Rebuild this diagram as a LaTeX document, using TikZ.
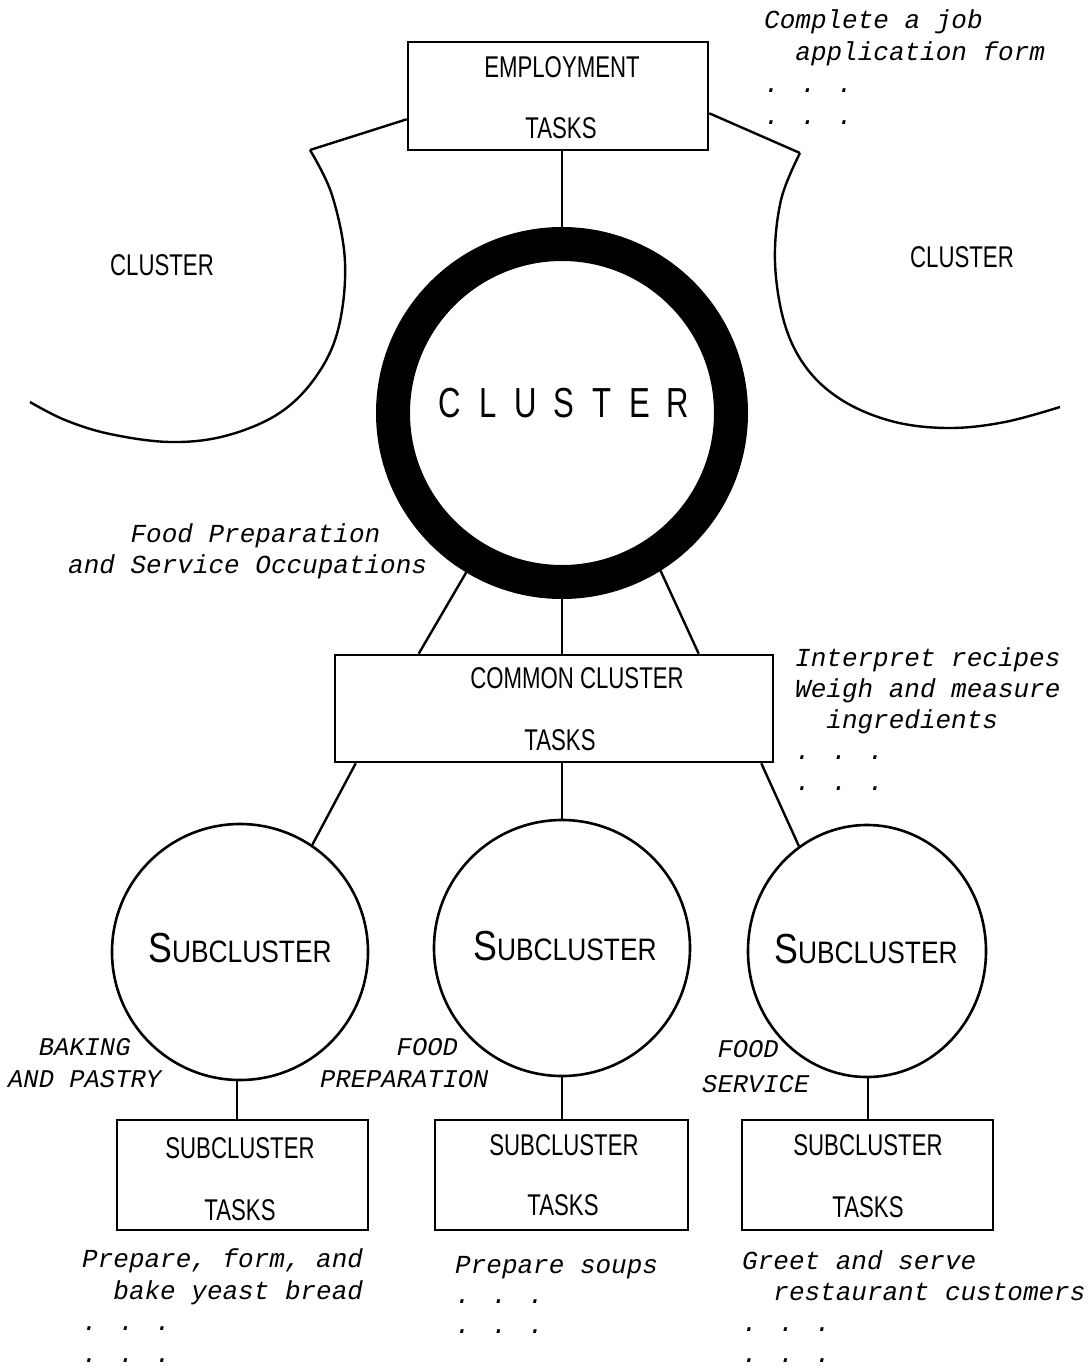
\documentclass[tikz,border=0pt]{standalone}
\usepackage{fontspec}
\setmainfont{Liberation Sans}
\newfontfamily\lblf{Liberation Sans}[FakeStretch=0.74]
\newfontfamily\subf{Liberation Sans}[FakeStretch=0.85]
\newfontfamily\twf{Liberation Mono}
\usetikzlibrary{calc,shapes.geometric}
\begin{document}
\begin{tikzpicture}[x=1pt,y=-1pt,
  box/.style={draw, line width=2.6pt, rectangle, inner sep=0pt},
  conn/.style={line width=2.4pt},
  lbl/.style={font=\lblf\fontsize{30}{30}\selectfont, inner sep=0pt},
  sublbl/.style={inner sep=0pt, anchor=base},
  note/.style={font=\twf\itshape\fontsize{26}{31}\selectfont, align=left, inner sep=0pt, anchor=base west},
  capnote/.style={font=\twf\itshape\fontsize{25.5}{32}\selectfont, align=left, inner sep=0pt, anchor=base west},
  ring/.style={circle, draw, line width=34pt, minimum size=338pt, inner sep=0pt},
  subc/.style={circle, draw, line width=2.6pt, minimum size=256pt, inner sep=0pt},
  arcline/.style={line width=2.4pt},
]
\useasboundingbox (0,0) rectangle (1091,1368);

% boxes
\node[box, minimum width=300pt, minimum height=108pt] (emp) at (558,96) {};
\node[lbl] (empa) at ($(emp.center)+(4,-29)$) {EMPLOYMENT};
\node[lbl] (empb) at ($(emp.center)+(3,32)$) {TASKS};

\node[ring] (big) at (562,413) {};
\node[inner sep=0pt, font=\lblf\fontsize{42}{42}\selectfont] (bigl) at (564,403)
  {\makebox[38pt]{C}\makebox[38pt]{L}\makebox[38pt]{U}\makebox[38pt]{S}\makebox[38pt]{T}\makebox[38pt]{E}\makebox[38pt]{R}};

\node[box, minimum width=438pt, minimum height=107pt] (common) at (554,708.5) {};
\node[lbl] (comma) at ($(common.center)+(23,-30.5)$) {COMMON CLUSTER};
\node[lbl] (commb) at ($(common.center)+(6,31.5)$) {TASKS};

% side partial clusters
\coordinate (la) at (310,150);
\coordinate (ra) at (800,153);
\draw[arcline] plot[smooth, tension=0.6] coordinates {(la) (332,195) (345,262) (338,330) (315,378) (278,414) (225,436) (170,442) (110,434) (65,420) (30,402)};
\draw[arcline] plot[smooth, tension=0.6] coordinates {(ra) (781,200) (775,262) (785,325) (808,370) (845,402) (895,422) (950,428) (1005,422) (1060,407)};
\node[lbl] (lcl) at (162,265) {CLUSTER};
\node[lbl] (rcl) at (962,257) {CLUSTER};

% subclusters
\node[subc] (s1) at (240,952) {};
\node[subc] (s2) at (562,948) {};
\node[draw, line width=2.6pt, ellipse, minimum width=238pt, minimum height=252pt, inner sep=0pt] (s3) at (867,951) {};
\node[sublbl] (s1l) at (240,962) {\subf\fontsize{42}{42}\selectfont S\fontsize{31}{31}\selectfont UBCLUSTER};
\node[sublbl] (s2l) at (565,960) {\subf\fontsize{42}{42}\selectfont S\fontsize{31}{31}\selectfont UBCLUSTER};
\node[sublbl] (s3l) at (866,963) {\subf\fontsize{42}{42}\selectfont S\fontsize{31}{31}\selectfont UBCLUSTER};

\node[box, minimum width=251pt, minimum height=110pt] (t1) at (242.5,1175) {};
\node[box, minimum width=253pt, minimum height=110pt] (t2) at (561.5,1175) {};
\node[box, minimum width=251pt, minimum height=110pt] (t3) at (867.5,1175) {};
\node[lbl] (t1a) at (240,1148) {SUBCLUSTER};
\node[lbl] (t1b) at (240,1210) {TASKS};
\node[lbl] (t2a) at (564,1145) {SUBCLUSTER};
\node[lbl] (t2b) at (563,1205) {TASKS};
\node[lbl] (t3a) at (868,1145) {SUBCLUSTER};
\node[lbl] (t3b) at (868,1207) {TASKS};

% connectors
\draw[conn] ($(emp.south west)+(0,-32)$) -- (la);
\draw[conn] ($(emp.south east)+(0,-38)$) -- (ra);
\draw[conn] (emp.south -| big.north) -- (big.north);
\draw[conn] (big.239) -- ($(common.north west)+(85,0)$);
\draw[conn] (big.south) -- (common.north -| big.south);
\draw[conn] (big.302) -- ($(common.north west)+(365,0)$);
\draw[conn] ($(common.south west)+(22,0)$) -- (s1.56);
\draw[conn] (common.south -| s2.north) -- (s2.north);
\draw[conn] ($(common.south east)+(-13,0)$) -- (s3.123);
\draw[conn] ($(s1.south)+(-3,0)$) -- ($(s1.south |- t1.north)+(-3,0)$);
\draw[conn] (s2.south) -- (s2.south |- t2.north);
\draw[conn] ($(s3.south)+(1,0)$) -- ($(s3.south |- t3.north)+(1,0)$);

% notes (anchor = baseline of the last line)
\node[note, font=\twf\itshape\fontsize{26}{32}\selectfont] (n1) at (764,124) {Complete a job\\\hspace*{1.2em}application form\\. . .\\. . .};
\node[note] (n2) at (68,573) {\hspace*{2.4em}Food Preparation\\and Service Occupations};
\node[note] (n3) at (795,790) {Interpret recipes\\Weigh and measure\\\hspace*{1.2em}ingredients\\. . .\\. . .};
\node[capnote] (c1) at (8,1087) {\hspace*{1.2em}BAKING\\AND PASTRY};
\node[capnote] (c2) at (320,1087) {\hspace*{3em}FOOD\\PREPARATION};
\node[capnote, font=\twf\itshape\fontsize{25.5}{35}\selectfont] (c3) at (702,1092) {\hspace*{0.6em}FOOD\\SERVICE};
\node[note, font=\twf\itshape\fontsize{26}{31.5}\selectfont] (b1) at (82,1362) {Prepare, form, and\\\hspace*{1.2em}bake yeast bread\\. . .\\. . .};
\node[note, font=\twf\itshape\fontsize{26}{30}\selectfont] (b2) at (455,1333) {Prepare soups\\. . .\\. . .};
\node[note, font=\twf\itshape\fontsize{26}{30.7}\selectfont] (b3) at (742,1362) {Greet and serve\\\hspace*{1.2em}restaurant customers\\. . .\\. . .};
\end{tikzpicture}
\end{document}
